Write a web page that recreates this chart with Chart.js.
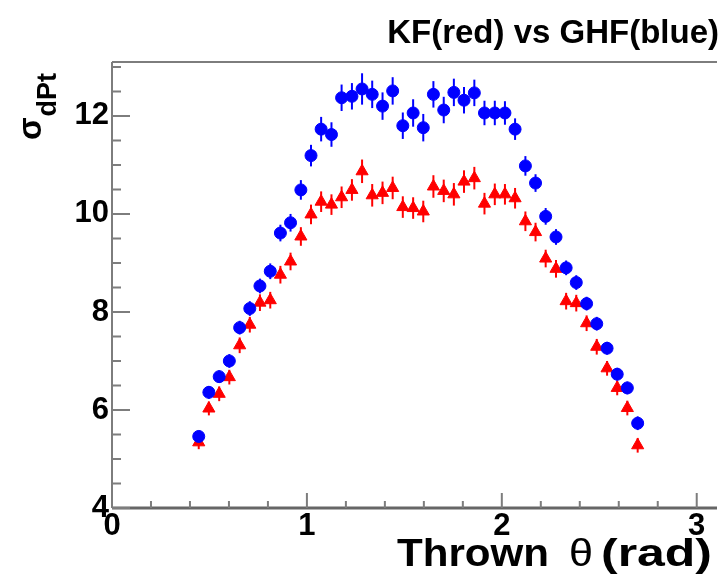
<!DOCTYPE html>
<html>
<head>
<meta charset="utf-8">
<script src="https://cdn.jsdelivr.net/npm/chart.js@4"></script>
<style>
    html, body { margin: 0; padding: 0; background: #fff; overflow: hidden; }
    #sigmaChart { display: block; }
</style>
</head>
<body>
<canvas id="sigmaChart" width="725" height="574"></canvas>
<script>
// bin centres (thrown theta, rad)
const thetaRad = [
    0.445, 0.497, 0.550, 0.602, 0.655, 0.707, 0.759, 0.812, 0.864, 0.916, 0.969,
    1.021, 1.073, 1.126, 1.178, 1.231, 1.283, 1.335, 1.388, 1.440, 1.492, 1.545,
    1.597, 1.649, 1.702, 1.754, 1.806, 1.859, 1.911, 1.964, 2.016, 2.068, 2.121,
    2.173, 2.225, 2.278, 2.330, 2.382, 2.435, 2.487, 2.540, 2.592, 2.644, 2.697,
];

// GHF (blue circles)
const ghfSigma = [
    5.46, 6.36, 6.68, 7.00, 7.68, 8.07, 8.53, 8.83, 9.61, 9.82, 10.49,
    11.19, 11.73, 11.62, 12.37, 12.40, 12.55, 12.44, 12.20, 12.51, 11.80, 12.06,
    11.76, 12.44, 12.12, 12.48, 12.32, 12.47, 12.06, 12.06, 12.06, 11.73, 10.98,
    10.63, 9.95, 9.53, 8.90, 8.60, 8.17, 7.76, 7.26, 6.73, 6.45, 5.73,
];
const ghfErr = [
    0.12, 0.13, 0.13, 0.14, 0.14, 0.15, 0.15, 0.16, 0.17, 0.18, 0.20,
    0.22, 0.25, 0.25, 0.27, 0.27, 0.32, 0.28, 0.28, 0.28, 0.27, 0.28,
    0.28, 0.27, 0.27, 0.28, 0.27, 0.27, 0.25, 0.25, 0.24, 0.22, 0.20,
    0.18, 0.17, 0.16, 0.15, 0.15, 0.14, 0.14, 0.13, 0.13, 0.13, 0.14,
];

// KF (red triangles)
const kfSigma = [
    5.34, 6.03, 6.33, 6.67, 7.32, 7.74, 8.19, 8.24, 8.76, 9.03, 9.54,
    9.99, 10.25, 10.19, 10.34, 10.49, 10.87, 10.38, 10.43, 10.53, 10.14, 10.12,
    10.05, 10.56, 10.47, 10.40, 10.66, 10.73, 10.21, 10.40, 10.40, 10.32, 9.85,
    9.63, 9.09, 8.88, 8.22, 8.18, 7.77, 7.29, 6.85, 6.45, 6.04, 5.28,
];
const kfErr = [
    0.14, 0.14, 0.15, 0.15, 0.16, 0.16, 0.17, 0.17, 0.18, 0.18, 0.19,
    0.20, 0.21, 0.21, 0.22, 0.22, 0.24, 0.23, 0.23, 0.23, 0.22, 0.22,
    0.22, 0.23, 0.23, 0.23, 0.23, 0.23, 0.22, 0.22, 0.21, 0.21, 0.20,
    0.19, 0.18, 0.18, 0.17, 0.17, 0.16, 0.16, 0.15, 0.15, 0.15, 0.15,
];

const xTickLabels = [0, 1, 2, 3];
const yTickLabels = [4, 6, 8, 10, 12];

const FONT = '"Liberation Sans", Arial, Helvetica, sans-serif';
const AXIS_COLOR = '#7d7d7d';

// draw a text piece stretched horizontally so it fills [x0, x1]
function stretchedText(ctx, text, x0, x1, y) {
    const w = ctx.measureText(text).width;
    ctx.save();
    ctx.translate(x0, y);
    ctx.scale((x1 - x0) / w, 1);
    ctx.textAlign = 'left';
    ctx.fillText(text, 0, 0);
    ctx.restore();
}

// ROOT style frame, inner ticks, error bars and titles
const rootLook = {
    id: 'rootLook',
    beforeDatasetsDraw(chart) {
        const ctx = chart.ctx;
        const xs = chart.scales.x;
        const ys = chart.scales.y;
        ctx.save();
        ctx.lineWidth = 2;
        chart.data.datasets.forEach((ds) => {
            ctx.strokeStyle = ds.borderColor;
            ds.data.forEach((p, i) => {
                const px = xs.getPixelForValue(p.x);
                ctx.beginPath();
                ctx.moveTo(px, ys.getPixelForValue(p.y - ds.errors[i]));
                ctx.lineTo(px, ys.getPixelForValue(p.y + ds.errors[i]));
                ctx.stroke();
            });
        });
        ctx.restore();
    },
    afterDraw(chart) {
        const ctx = chart.ctx;
        const a = chart.chartArea;
        const xs = chart.scales.x;
        const ys = chart.scales.y;
        ctx.save();

        // frame
        ctx.strokeStyle = AXIS_COLOR;
        ctx.lineWidth = 2;
        ctx.beginPath();
        ctx.moveTo(a.left, a.top);
        ctx.lineTo(a.right, a.top);
        ctx.moveTo(a.left, a.top);
        ctx.lineTo(a.left, a.bottom);
        ctx.stroke();
        ctx.strokeStyle = '#666';
        ctx.lineWidth = 3;
        ctx.beginPath();
        ctx.moveTo(a.left, a.bottom);
        ctx.lineTo(a.right, a.bottom);
        ctx.stroke();

        // ticks pointing inside
        ctx.strokeStyle = AXIS_COLOR;
        ctx.lineWidth = 2;
        ctx.beginPath();
        for (let k = 0; k <= 15; k++) {
            const px = xs.getPixelForValue(k * 0.2);
            const len = k % 5 === 0 ? 15 : 7;
            ctx.moveTo(px, a.bottom);
            ctx.lineTo(px, a.bottom - len);
        }
        for (let k = 0; k <= 18; k++) {
            const py = ys.getPixelForValue(4 + k * 0.5);
            const len = k % 4 === 0 ? 18 : 9;
            ctx.moveTo(a.left, py);
            ctx.lineTo(a.left + len, py);
        }
        ctx.stroke();

        // titles
        ctx.fillStyle = '#000';
        ctx.textBaseline = 'alphabetic';
        ctx.textAlign = 'right';
        ctx.font = 'bold 33px ' + FONT;
        ctx.fillText('KF(red) vs GHF(blue)', 719, 43);

        ctx.font = 'bold 38px ' + FONT;
        stretchedText(ctx, 'Thrown', 397, 549, 566);
        stretchedText(ctx, '(rad)', 601, 712, 566);
        ctx.font = '38px ' + FONT;
        stretchedText(ctx, 'θ', 569, 593, 566);

        // y title: sigma with subscript dPt, rotated
        ctx.translate(41, 140);
        ctx.rotate(-Math.PI / 2);
        ctx.textAlign = 'left';
        ctx.font = 'bold 33px ' + FONT;
        ctx.fillText('σ', 0, 0);
        const w = ctx.measureText('σ').width;
        ctx.font = 'bold 27px ' + FONT;
        ctx.fillText('dPt', w + 1, 15);
        ctx.restore();
    },
};

const tickFont = { family: FONT, size: 31, weight: 'bold' };

const sigmaCtx = document.getElementById('sigmaChart').getContext('2d');
new Chart(sigmaCtx, {
    type: 'scatter',
    data: {
        datasets: [
            {
                label: 'GHF',
                data: thetaRad.map((x, i) => ({ x: x, y: ghfSigma[i] })),
                errors: ghfErr,
                pointStyle: 'circle',
                pointRadius: 6,
                borderWidth: 1,
                backgroundColor: '#0000ff',
                borderColor: '#0000ff',
            },
            {
                label: 'KF',
                data: thetaRad.map((x, i) => ({ x: x, y: kfSigma[i] })),
                errors: kfErr,
                pointStyle: 'triangle',
                pointRadius: 7,
                borderWidth: 1,
                backgroundColor: '#ff0000',
                borderColor: '#ff0000',
            },
        ],
    },
    options: {
        responsive: false,
        animation: false,
        layout: { padding: { top: 62, right: 0, bottom: 0, left: 0 } },
        plugins: {
            legend: { display: false },
            tooltip: { enabled: false },
        },
        scales: {
            x: {
                type: 'linear',
                min: 0,
                max: 3.104,
                afterFit(scale) { scale.height = 66; },
                grid: { display: false, drawTicks: false },
                border: { display: false },
                ticks: {
                    stepSize: 1,
                    includeBounds: false,
                    autoSkip: false,
                    maxRotation: 0,
                    padding: 0,
                    color: '#000',
                    font: tickFont,
                    callback: (v) => (xTickLabels.includes(v) ? String(v) : ''),
                },
            },
            y: {
                type: 'linear',
                min: 4,
                max: 13.1,
                afterFit(scale) { scale.width = 112; },
                grid: { display: false, drawTicks: false },
                border: { display: false },
                ticks: {
                    stepSize: 2,
                    includeBounds: false,
                    autoSkip: false,
                    padding: 3,
                    color: '#000',
                    font: tickFont,
                    callback: (v) => (yTickLabels.includes(v) ? String(v) : ''),
                },
            },
        },
    },
    plugins: [rootLook],
});
</script>
</body>
</html>
